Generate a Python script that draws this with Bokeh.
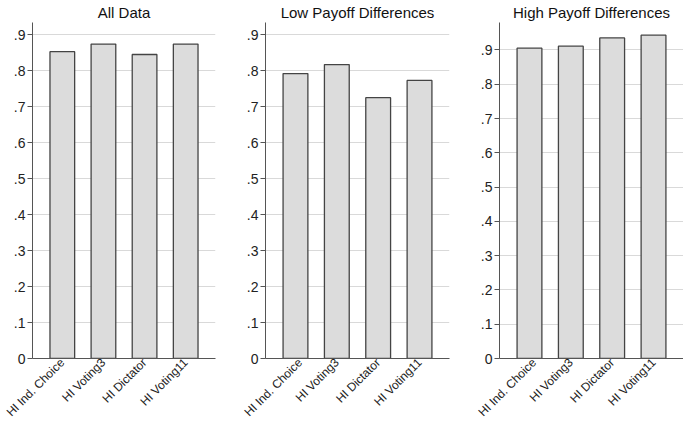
from math import pi
from bokeh.plotting import figure
from bokeh.layouts import row
from bokeh.models import FactorRange, Range1d, FixedTicker, ColumnDataSource
from bokeh.embed import file_html
from bokeh.resources import INLINE

categories = ["HI Ind. Choice", "HI Voting3", "HI Dictator", "HI Voting11"]
all_data = [0.853, 0.874, 0.845, 0.874]
low_payoff = [0.792, 0.817, 0.725, 0.773]
high_payoff = [0.905, 0.911, 0.935, 0.943]
titles = ["All Data", "Low Payoff Differences", "High Payoff Differences"]
y_ticks = [0, 0.1, 0.2, 0.3, 0.4, 0.5, 0.6, 0.7, 0.8, 0.9]
y_tick_labels = ["0", ".1", ".2", ".3", ".4", ".5", ".6", ".7", ".8", ".9"]

FONT = "Liberation Sans"


def panel(title, values, y_max, border_left, border_right, frame_width):
    src = ColumnDataSource(dict(cat=categories, val=values))
    p = figure(
        x_range=FactorRange(*categories, range_padding=0.1125),
        y_range=Range1d(0, y_max),
        frame_width=frame_width, frame_height=336,
        min_border_left=border_left, min_border_right=border_right,
        min_border_top=20, min_border_bottom=0,
        output_backend="svg", toolbar_location=None,
        title=title,
    )
    p.vbar(x="cat", top="val", width=0.6, source=src,
           fill_color="#dcdcdc", line_color="#444444", line_width=1.3)
    p.title.text_font = FONT
    p.title.text_font_size = "15px"
    p.title.text_font_style = "normal"
    p.title.text_color = "#111111"
    p.title.align = "center"
    p.title.standoff = 3
    p.title.offset = 0

    p.outline_line_color = None
    p.background_fill_color = "white"
    p.border_fill_color = "white"

    p.xgrid.grid_line_color = None
    p.ygrid.ticker = FixedTicker(ticks=y_ticks)
    p.ygrid.grid_line_color = "#d9d9d9"
    p.ygrid.grid_line_width = 1

    ya = p.yaxis[0]
    ya.ticker = FixedTicker(ticks=y_ticks)
    ya.major_label_overrides = dict(zip(y_ticks, y_tick_labels))
    ya.minor_tick_line_color = None
    ya.major_tick_out = 5
    ya.major_tick_in = 0
    ya.major_label_standoff = 2
    ya.axis_line_color = "#555555"
    ya.major_tick_line_color = "#555555"
    ya.major_label_text_font = FONT
    ya.major_label_text_font_size = "14px"
    ya.major_label_text_color = "#222222"

    xa = p.xaxis[0]
    xa.major_tick_line_color = None
    xa.major_tick_out = 0
    xa.major_tick_in = 0
    xa.major_label_orientation = pi / 4
    xa.major_label_standoff = 2
    xa.axis_line_color = "#555555"
    xa.major_label_text_font = FONT
    xa.major_label_text_font_size = "12px"
    xa.major_label_text_color = "#222222"
    return p


p1 = panel(titles[0], all_data, 0.934, 32, 26, 183)
p2 = panel(titles[1], low_payoff, 0.934, 24, 26, 184)
p3 = panel(titles[2], high_payoff, 0.98, 24, 0, 184)

layout = row(p1, p2, p3, spacing=0)
open("out.html", "w").write(file_html(layout, INLINE))
